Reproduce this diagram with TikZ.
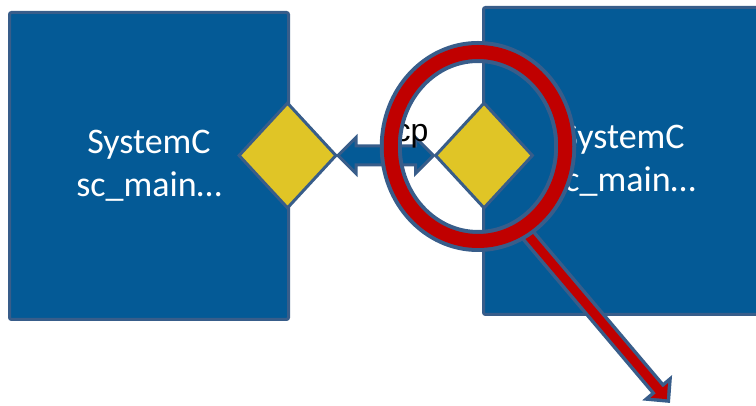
\documentclass[tikz,border=0pt]{standalone}
\usepackage{fontspec}
\setmainfont{Carlito}
\newfontfamily\labelfont{Liberation Sans}
\usepackage{tikz}
\usetikzlibrary{shapes.geometric}
\usetikzlibrary{arrows.meta}
\usetikzlibrary{calc}
\usepackage{xcolor}
\definecolor{scblue}{RGB}{4,90,150}
\definecolor{scedge}{RGB}{56,93,138}
\definecolor{portyellow}{RGB}{224,197,38}
\definecolor{lensred}{RGB}{192,0,0}

\begin{document}
\begin{tikzpicture}[x=1pt,y=1pt,
  module/.style={draw=scedge, fill=scblue, line width=3pt, rounded corners=2pt,
    minimum width=279pt, minimum height=307pt, text=white, align=center,
    font=\fontsize{36}{43}\selectfont},
  port/.style={diamond, draw=scedge, fill=portyellow, line width=3pt,
    minimum width=98pt, minimum height=106pt, inner sep=0pt}]
\useasboundingbox (0,0) rectangle (756,406);
\clip (0,0) rectangle (756,406);
% the two modules and their ports
\node [module] (modA) at (149,240) {SystemC\\sc\_main…};
\node [module] (modB) at (623,245) {SystemC\\sc\_main…};
\node [port] (portA) at (287.5,250.5) {};
\node [port] (portB) at (484,250.5) {};
% block arrow between the ports
\filldraw [draw=scedge, fill=scblue, line width=3pt]
  (portA.east) -- ++(18,18) -- ++(0,-8.5) -- ($(portB.west)+(-18,9.5)$) -- ++(0,8.5)
  -- (portB.west) -- ++(-18,-18) -- ++(0,8.5) -- ($(portA.east)+(18,-9.5)$) -- ++(0,-8.5)
  -- cycle;
\node [anchor=base, font=\labelfont\fontsize{32}{38}\selectfont] (tcplabel) at (407,264) {tcp};
% magnifier: handle first, ring on top
\coordinate (grip) at (522,178);
\coordinate (tip) at (670,3);
\draw  [scedge, line width=16pt] [-{Triangle[length=20pt,width=38pt]}] (grip) -- (tip);
\draw  [lensred, line width=9pt, shorten >=5pt] [-{Triangle[length=11.5pt,width=22pt]}] (grip) -- (tip);
\draw  [scedge, line width=22pt] (478,259.5) ellipse [x radius=87.25, y radius=94.5];
\draw  [lensred, line width=14pt] (478,259.5) ellipse [x radius=87.25, y radius=94.5];
\end{tikzpicture}
\end{document}
